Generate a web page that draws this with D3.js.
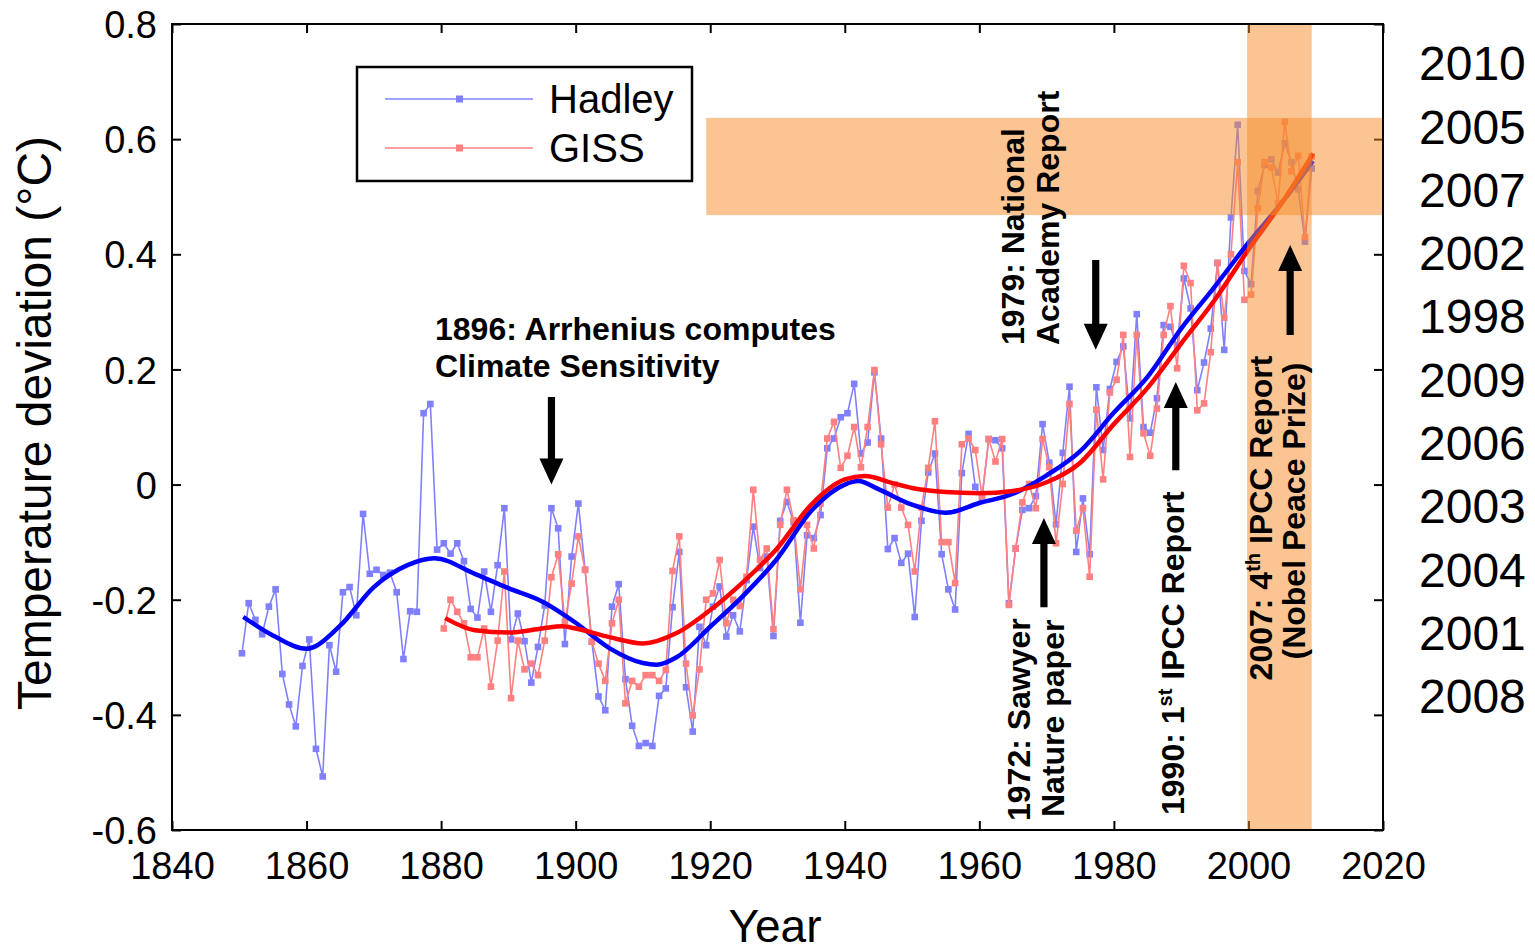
<!DOCTYPE html>
<html>
<head>
<meta charset="utf-8">
<script src="https://cdn.jsdelivr.net/npm/d3@7"></script>
<style>
  html, body { margin: 0; padding: 0; background: #fff; }
  svg { display: block; font-family: Arial, "Liberation Sans", sans-serif; }
</style>
</head>
<body>
<svg id="chart" width="1535" height="952"></svg>
<script>
// ---------------- DATA ----------------
const hadleyYears = d3.range(1850, 2010);
const hadleyValues = [
  -0.293,-0.206,-0.235,-0.260,-0.212,-0.182,-0.329,-0.382,-0.420,-0.315,
  -0.269,-0.459,-0.507,-0.279,-0.325,-0.187,-0.178,-0.227,-0.051,-0.155,
  -0.148,-0.157,-0.153,-0.187,-0.303,-0.220,-0.221, 0.124, 0.140,-0.113,
  -0.102,-0.120,-0.102,-0.133,-0.216,-0.231,-0.151,-0.221,-0.140,-0.041,
  -0.269,-0.224,-0.272,-0.344,-0.282,-0.210,-0.041,-0.076,-0.277,-0.125,
  -0.033,-0.148,-0.273,-0.368,-0.392,-0.212,-0.173,-0.338,-0.419,-0.454,
  -0.449,-0.454,-0.367,-0.354,-0.213,-0.117,-0.352,-0.429,-0.247,-0.279,
  -0.212,-0.177,-0.264,-0.227,-0.255,-0.166,-0.073,-0.145,-0.125,-0.263,
  -0.063,-0.030,-0.065,-0.240,-0.088,-0.093,-0.053, 0.063, 0.080, 0.117,
   0.124, 0.175, 0.054, 0.073, 0.195, 0.080,-0.112,-0.093,-0.136,-0.120,
  -0.230,-0.063, 0.021, 0.054,-0.121,-0.182,-0.217, 0.020, 0.088,-0.004,
  -0.024, 0.079, 0.077, 0.063,-0.206,-0.111,-0.044,-0.041,-0.020, 0.105,
   0.038,-0.069, 0.055, 0.170,-0.117,-0.024,-0.121, 0.169, 0.060, 0.166,
   0.213, 0.240, 0.115, 0.296, 0.100, 0.090, 0.150, 0.277, 0.274, 0.240,
   0.358, 0.306, 0.164, 0.212, 0.271, 0.385, 0.234, 0.464, 0.625, 0.371,
   0.348, 0.510, 0.555, 0.565, 0.542, 0.593, 0.560, 0.513, 0.422, 0.549
];
const gissYears = d3.range(1880, 2010);
const gissValues = [
  -0.250,-0.200,-0.221,-0.241,-0.300,-0.300,-0.250,-0.351,-0.271,-0.151,
  -0.371,-0.271,-0.321,-0.311,-0.331,-0.271,-0.161,-0.121,-0.238,-0.172,
  -0.090,-0.148,-0.273,-0.311,-0.341,-0.241,-0.200,-0.380,-0.341,-0.351,
  -0.331,-0.331,-0.341,-0.322,-0.150,-0.090,-0.311,-0.401,-0.321,-0.200,
  -0.189,-0.131,-0.241,-0.200,-0.211,-0.160,-0.009,-0.131,-0.111,-0.251,
  -0.070,-0.009,-0.062,-0.182,-0.070,-0.111,-0.033, 0.080, 0.109, 0.029,
   0.050, 0.100, 0.030, 0.100, 0.199, 0.070,-0.040, 0.000,-0.040,-0.070,
  -0.151,-0.040, 0.029, 0.110,-0.100,-0.100,-0.171, 0.070, 0.080, 0.060,
  -0.020, 0.079, 0.040, 0.079,-0.209,-0.111,-0.031, 0.001,-0.041, 0.079,
   0.030,-0.102, 0.001, 0.140,-0.080,-0.041,-0.160, 0.130, 0.009, 0.160,
   0.182, 0.260, 0.048, 0.260, 0.089, 0.050, 0.132, 0.260, 0.310, 0.202,
   0.380, 0.350, 0.129, 0.141, 0.230, 0.385, 0.290, 0.400, 0.560, 0.321,
   0.330, 0.480, 0.560, 0.551, 0.489, 0.630, 0.544, 0.571, 0.430, 0.570
];
// smoothed trends
const hadleySmoothYears = [1850.6,1855,1860,1865,1870,1875,1879,1885,1890,1895,1900,1905,1910,1912,1915,1920,1925,1930,1935,1940,1942,1945,1950,1955,1960,1965,1970,1975,1980,1985,1990,1995,2000,2005,2009.6];
const hadleySmoothValues = [-0.230,-0.262,-0.285,-0.245,-0.178,-0.140,-0.128,-0.155,-0.180,-0.203,-0.240,-0.284,-0.310,-0.313,-0.300,-0.247,-0.192,-0.128,-0.046,0.000,0.006,-0.008,-0.035,-0.049,-0.032,-0.016,0.016,0.058,0.125,0.187,0.271,0.344,0.420,0.490,0.562];
const gissSmoothYears = [1880.6,1885,1890,1895,1898,1900,1905,1910,1915,1920,1925,1930,1935,1940,1943,1947,1950,1955,1960,1965,1970,1975,1980,1985,1990,1995,2000,2005,2009.6];
const gissSmoothValues = [-0.232,-0.253,-0.257,-0.250,-0.246,-0.250,-0.265,-0.276,-0.258,-0.218,-0.168,-0.110,-0.035,0.009,0.015,0.003,-0.006,-0.013,-0.015,-0.011,0.004,0.038,0.105,0.168,0.245,0.321,0.408,0.490,0.575];

const xTicks = [1840,1860,1880,1900,1920,1940,1960,1980,2000,2020];
const yTicks = [-0.6,-0.4,-0.2,0,0.2,0.4,0.6,0.8];
const yTickLabels = ["-0.6","-0.4","-0.2","0","0.2","0.4","0.6","0.8"];
const rankedYears = ["2010","2005","2007","2002","1998","2009","2006","2003","2004","2001","2008"];
const seriesNames = ["Hadley","GISS"];

// highlight bands: [yearStart, yearEnd, valueLow, valueHigh]
const hBand = [1919.4, 2020, 0.468, 0.637];
const vBand = [1999.8, 2009.4, -0.6, 0.8];

// annotation arrows: [year, value at tail, value at tip]
const arrows = [
  [1896.0, 0.152, 0.0],
  [1969.2, -0.213, -0.058],
  [1976.9, 0.390, 0.234],
  [1988.8, 0.025, 0.178],
  [2005.8, 0.260, 0.416]
];

// ---------------- SCALES ----------------
const svg = d3.select("#chart");
const X0 = 172, X1 = 1383, Y0 = 24, Y1 = 830;
const MID = 0.4; // points plotted at mid-year
const x = d3.scaleLinear().domain([1840, 2020]).range([X0, X1]);
const y = d3.scaleLinear().domain([-0.6, 0.8]).range([Y1, Y0]);

const blueLight = "#8080ff", blueDark = "#0000ff";
const redLight = "#ff8080", redDark = "#ff0000";
const bandColor = "#f58c28", bandOpacity = 0.5;

// ---------------- AXES ----------------
const tickFont = 38;
const gx = svg.append("g").attr("transform", `translate(0,${Y1})`)
  .call(d3.axisBottom(x).tickValues(xTicks).tickSize(-9).tickPadding(22).tickFormat(d3.format("d")));
const gxt = svg.append("g").attr("transform", `translate(0,${Y0})`)
  .call(d3.axisTop(x).tickValues(xTicks).tickSize(-9).tickFormat(""));
const gy = svg.append("g").attr("transform", `translate(${X0},0)`)
  .call(d3.axisLeft(y).tickValues(yTicks).tickSize(-9).tickPadding(15).tickFormat((d,i) => yTickLabels[i]));
const gyr = svg.append("g").attr("transform", `translate(${X1},0)`)
  .call(d3.axisRight(y).tickValues(yTicks).tickSize(-9).tickFormat(""));
[gx, gxt, gy, gyr].forEach(g => {
  g.select(".domain").remove();
  g.selectAll(".tick line").attr("stroke", "#000").attr("stroke-width", 2);
  g.selectAll(".tick text").attr("fill", "#000").attr("font-size", tickFont)
    .attr("font-family", "Arial, 'Liberation Sans', sans-serif");
});
gx.selectAll(".tick text").attr("dy", "0.71em");
gy.selectAll(".tick text").attr("dy", "0.36em");

// axis titles
svg.append("text").attr("x", 775).attr("y", 942).attr("text-anchor", "middle")
  .attr("font-size", 46).attr("fill", "#000").text("Year");
svg.append("text").attr("transform", "translate(51,423) rotate(-90)").attr("text-anchor", "middle")
  .attr("font-size", 48).attr("fill", "#000").text("Temperature deviation (°C)");

// ---------------- DATA LINES ----------------
const plot = svg.append("g");
const lineGen = d3.line().x(d => x(d[0] + MID)).y(d => y(d[1]));
function drawSeries(years, values, color) {
  const pts = years.map((yr, i) => [yr, values[i]]);
  plot.append("path").datum(pts).attr("d", lineGen)
    .attr("fill", "none").attr("stroke", color).attr("stroke-width", 1.6);
  plot.append("g").selectAll("rect").data(pts).join("rect")
    .attr("x", d => x(d[0] + MID) - 3.3).attr("y", d => y(d[1]) - 3.3)
    .attr("width", 6.6).attr("height", 6.6).attr("fill", color);
}
drawSeries(hadleyYears, hadleyValues, blueLight);
drawSeries(gissYears, gissValues, redLight);

const smoothGen = d3.line().x(d => x(d[0])).y(d => y(d[1])).curve(d3.curveMonotoneX);
plot.append("path").datum(hadleySmoothYears.map((yr, i) => [yr, hadleySmoothValues[i]]))
  .attr("d", smoothGen).attr("fill", "none").attr("stroke", blueDark).attr("stroke-width", 4.5);
plot.append("path").datum(gissSmoothYears.map((yr, i) => [yr, gissSmoothValues[i]]))
  .attr("d", smoothGen).attr("fill", "none").attr("stroke", redDark).attr("stroke-width", 4.5);

// ---------------- BANDS ----------------
[hBand, vBand].forEach(b => {
  svg.append("rect")
    .attr("x", x(b[0])).attr("width", x(b[1]) - x(b[0]))
    .attr("y", y(b[3])).attr("height", y(b[2]) - y(b[3]))
    .attr("fill", bandColor).attr("opacity", bandOpacity);
});

// frame
svg.append("rect").attr("x", X0).attr("y", Y0).attr("width", X1 - X0).attr("height", Y1 - Y0)
  .attr("fill", "none").attr("stroke", "#000").attr("stroke-width", 2);

// ---------------- LEGEND ----------------
const leg = svg.append("g");
leg.append("rect").attr("x", 357).attr("y", 67).attr("width", 335).attr("height", 114)
  .attr("fill", "#fff").attr("stroke", "#000").attr("stroke-width", 2.5);
[[seriesNames[0], blueLight, 99], [seriesNames[1], redLight, 148]].forEach(([name, c, ly]) => {
  leg.append("line").attr("x1", 385).attr("x2", 533).attr("y1", ly).attr("y2", ly)
    .attr("stroke", c).attr("stroke-width", 1.6);
  leg.append("rect").attr("x", 456).attr("y", ly - 3.5).attr("width", 7).attr("height", 7).attr("fill", c);
  leg.append("text").attr("x", 549).attr("y", ly + 14).attr("font-size", 40).attr("fill", "#000").text(name);
});

// ---------------- RANKED YEARS (right) ----------------
svg.append("g").selectAll("text").data(rankedYears).join("text")
  .attr("x", 1419).attr("y", (d, i) => 63 + i * 63.3).attr("dy", "0.36em")
  .attr("font-size", 48).attr("fill", "#000").text(d => d);

// ---------------- ANNOTATIONS ----------------
const ann = svg.append("g").attr("font-weight", "bold").attr("font-size", 32).attr("fill", "#000");
ann.append("text").attr("x", 435).attr("y", 340).text("1896: Arrhenius computes");
ann.append("text").attr("x", 435).attr("y", 377).text("Climate Sensitivity");

function vtext(bx, by, anchor, parts) {
  const t = ann.append("text").attr("transform", `translate(${bx},${by}) rotate(-90)`)
    .attr("text-anchor", anchor);
  parts.forEach(p => {
    const s = t.append("tspan").text(p[0]);
    if (p[1]) s.attr("font-size", 20).attr("dy", -12);
    if (p[2]) s.attr("dy", 12);
  });
}
vtext(1030, 821, "start", [["1972: Sawyer"]]);
vtext(1064, 817, "start", [["Nature paper"]]);
vtext(1024, 345, "start", [["1979: National"]]);
vtext(1059, 345, "start", [["Academy Report"]]);
vtext(1184, 815, "start", [["1990: 1"], ["st", true], [" IPCC Report", false, true]]);
vtext(1272, 518, "middle", [["2007: 4"], ["th", true], [" IPCC Report", false, true]]);
vtext(1305, 511, "middle", [["(Nobel Peace Prize)"]]);

// arrows
arrows.forEach(([yr, v0, v1]) => {
  const ax = x(yr + MID), ya = y(v0), yb = y(v1);
  const dir = yb > ya ? 1 : -1;
  const headL = 26, headW = 12, shaftW = 3.6;
  const yh = yb - dir * headL;
  const p = d3.path();
  p.moveTo(ax - shaftW, ya); p.lineTo(ax + shaftW, ya); p.lineTo(ax + shaftW, yh);
  p.lineTo(ax + headW, yh); p.lineTo(ax, yb); p.lineTo(ax - headW, yh);
  p.lineTo(ax - shaftW, yh); p.closePath();
  svg.append("path").attr("d", p.toString()).attr("fill", "#000");
});
</script>
</body>
</html>
